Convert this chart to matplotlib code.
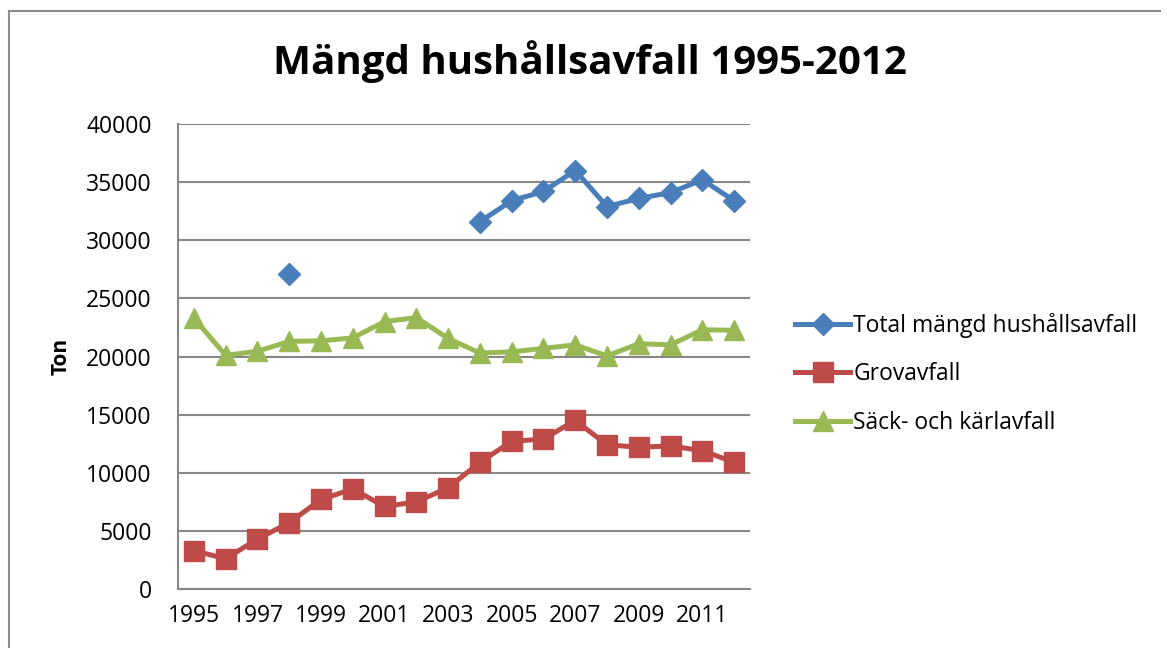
import matplotlib
matplotlib.use("Agg")
import matplotlib.pyplot as plt
from matplotlib.lines import Line2D
import numpy as np

years = list(range(1995, 2013))
total = [np.nan, np.nan, np.nan, 27100, np.nan, np.nan, np.nan, np.nan, np.nan,
         31600, 33400, 34200, 36000, 32900, 33600, 34100, 35200, 33400]
grov = [3300, 2600, 4300, 5700, 7700, 8600, 7100, 7500, 8700,
        10900, 12700, 12900, 14500, 12400, 12200, 12300, 11900, 10900]
sack = [23300, 20100, 20450, 21300, 21350, 21600, 23000, 23350, 21550,
        20300, 20400, 20700, 21000, 20050, 21100, 21000, 22300, 22250]
series_names = ["Total mängd hushållsavfall", "Grovavfall", "Säck- och kärlavfall"]
title = "Mängd hushållsavfall 1995-2012"
ylabel = "Ton"
yticks = [0, 5000, 10000, 15000, 20000, 25000, 30000, 35000, 40000]

plt.rcParams['font.family'] = ['Open Sans', 'DejaVu Sans']

W, H = 1167, 648
fig = plt.figure(figsize=(W / 100, H / 100), dpi=100)
ax = fig.add_axes([178 / W, 1 - 589 / H, (750 - 178) / W, (589 - 124) / H])

x = np.arange(len(years))
blue, red, green = "#4A7EBB", "#BE4B48", "#98B954"
lw = 3.6
ax.plot(x, total, color=blue, lw=lw, marker="D", ms=11, mec=blue, label=series_names[0], zorder=3)
ax.plot(x, grov, color=red, lw=lw, marker="s", ms=14, mec=red, label=series_names[1], zorder=3)
ax.plot(x, sack, color=green, lw=lw, marker="^", ms=15, mec=green, label=series_names[2], zorder=3)

ax.set_xlim(-0.5, len(years) - 0.5)
ax.set_ylim(0, 40000)
ax.set_yticks(yticks)
ax.set_yticklabels([str(v) for v in yticks], fontsize=16.5)
ax.set_xticks(x[::2])
ax.set_xticklabels([str(y) for y in years[::2]], fontsize=16.5)
ax.tick_params(axis='y', length=0, pad=19)
ax.tick_params(axis='x', length=0, pad=11)
ax.grid(axis='y', color="#878787", lw=1.5)
ax.set_axisbelow(True)
for s in ['top', 'right']:
    ax.spines[s].set_visible(False)
for s in ['left', 'bottom']:
    ax.spines[s].set_color("#878787")
    ax.spines[s].set_linewidth(1.5)

ax.set_ylabel(ylabel, fontsize=15, fontweight='bold', labelpad=10)

fig.text(590 / W, 1 - 62 / H, title, ha='center', va='center', fontsize=29, fontweight='bold')

leg = fig.legend(loc='center left', bbox_to_anchor=(795 / W, 1 - 374 / H), frameon=False,
                 fontsize=16.5, handlelength=2.4, handletextpad=0.15, labelspacing=1.07,
                 numpoints=1, borderaxespad=0, borderpad=0)

# chart border (top and left visible)
fig.add_artist(Line2D([9 / W, 9 / W], [0, 1 - 11 / H], transform=fig.transFigure, color="#8c8c8c", lw=1.5))
fig.add_artist(Line2D([9 / W, 1160 / W], [1 - 11 / H, 1 - 11 / H], transform=fig.transFigure, color="#8c8c8c", lw=1.5))

fig.savefig("out.png", dpi=100, facecolor="white")
